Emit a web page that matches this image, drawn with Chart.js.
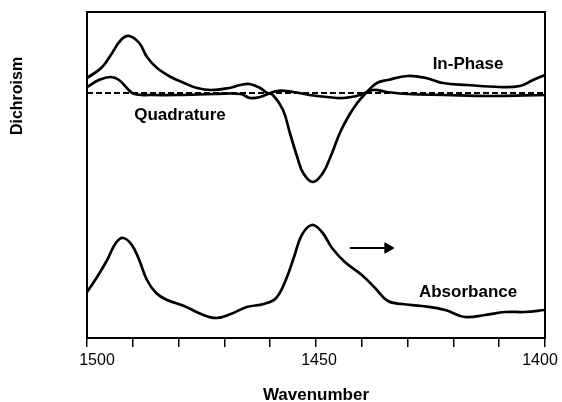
<!DOCTYPE html>
<html>
<head>
<meta charset="utf-8">
<script src="https://cdn.jsdelivr.net/npm/chart.js@4/dist/chart.umd.min.js"></script>
<style>
html,body{margin:0;padding:0;background:#fff;}
#wrap{width:562px;height:402px;}
</style>
</head>
<body>
<div id="wrap"><canvas id="c" width="562" height="402"></canvas></div>
<script>
// Wavenumbers (cm-1) and signal values (arbitrary units)
const inPhaseX = [1500,1496.9,1494.8,1492.6,1490.8,1488.6,1486.9,1484.7,1481.7,1478.8,1476,1472.9,1469,1466.5,1464.5,1462.2,1460.7,1459.4,1457.2,1455.7,1454.1,1452.8,1450.7,1448.5,1446.5,1444.8,1443,1441,1438.9,1436.7,1434.3,1430,1426,1422.3,1417,1410,1405.5,1402.6,1400];
const inPhaseY = [260,270,283,298,302,295,281,270,261,255,250,248,250,253,254,250,245,243,228,205,181,165,156,165,185,205,221,235,246,255,258,262,260,255,253,251,252,258,263];

const quadX = [1500,1497.4,1494.8,1493,1491.3,1489.7,1486,1480,1472,1466.5,1464.4,1462.2,1458.5,1455,1451.5,1447.6,1444,1440.4,1437.5,1434.5,1430,1422,1412,1400];
const quadY = [251,258,261,258,250,244,243,243,244,244,240,241,247,246,243,241,240,243,248,246,244,243,242,243];

const absX = [1500,1497.8,1495.6,1493.7,1492.1,1490.2,1488.6,1486.9,1484.9,1482.5,1478.8,1475.1,1471.8,1468.6,1465.1,1461.4,1458.7,1456.6,1454.8,1453.1,1450.9,1448.7,1446.5,1443.7,1440,1437.1,1434.3,1431.2,1426.9,1421.8,1417.5,1413.1,1408.7,1404.4,1400];
const absY = [46,61,78,95,100,93,78,58,45,38,32,24,20,24,31,34,40,58,81,103,113,106,90,76,63,50,37,34,32,28,21,23,26,26,28];

const baselineX = [1500,1400];
const baselineY = [245,245];

const arrowX = [1442.6,1434.3];
const arrowY = [90,90];

const xTickLabels = [1500,1450,1400];
const xTickLabelNudge = [10,3,-5];
const seriesLabels = ['In-Phase','Quadrature','Absorbance'];
const labelX = [1416.8,1479.7,1416.8];
const labelY = [274,223,46];
const yTitle = 'Dichroism';
const yTitleValue = 242;
const xTitle = 'Wavenumber';

const pts = (xs, ys) => xs.map((x,i)=>({x:x,y:ys[i]}));

const lineStyle = {borderColor:'#000', borderWidth:2.7, pointRadius:0, tension:0.4, fill:false};
const FONT = '"Liberation Sans", Arial, sans-serif';

const annot = {
  id:'annot',
  afterDraw(chart){
    const {ctx, chartArea:a, scales:{x,y}} = chart;
    ctx.save();
    // frame
    ctx.strokeStyle='#000'; ctx.lineWidth=2;
    ctx.strokeRect(a.left, a.top, a.right-a.left, a.bottom-a.top);
    ctx.fillStyle='#000';
    ctx.textAlign='center'; ctx.textBaseline='middle';
    // x tick labels
    ctx.font='16px ' + FONT;
    xTickLabels.forEach((v,i)=>{
      ctx.fillText(String(v), x.getPixelForValue(v) + xTickLabelNudge[i], a.bottom + 23);
    });
    // series labels
    ctx.font='bold 17px ' + FONT;
    seriesLabels.forEach((t,i)=>{
      ctx.fillText(t, x.getPixelForValue(labelX[i]), y.getPixelForValue(labelY[i]));
    });
    // y title
    ctx.translate(18, y.getPixelForValue(yTitleValue));
    ctx.rotate(-Math.PI/2);
    ctx.font='bold 16px ' + FONT;
    ctx.fillText(yTitle, 0, 0);
    ctx.restore();
  }
};

new Chart(document.getElementById('c'), {
  type:'line',
  data:{
    datasets:[
      Object.assign({label:'In-Phase', data:pts(inPhaseX,inPhaseY)}, lineStyle),
      Object.assign({label:'Quadrature', data:pts(quadX,quadY)}, lineStyle),
      Object.assign({label:'Absorbance', data:pts(absX,absY)}, lineStyle),
      {label:'Baseline', data:pts(baselineX,baselineY), borderColor:'#000', borderWidth:2, borderDash:[6,3], pointRadius:0, fill:false},
      {label:'Arrow', data:pts(arrowX,arrowY), borderColor:'#000', borderWidth:2, pointRadius:[0,6], pointStyle:'triangle', rotation:90, pointBackgroundColor:'#000', pointBorderColor:'#000', pointBorderWidth:1, fill:false}
    ]
  },
  options:{
    responsive:false,
    animation:false,
    layout:{padding:{left:87, right:17, top:12, bottom:0}},
    plugins:{legend:{display:false}, tooltip:{enabled:false}},
    scales:{
      x:{
        type:'linear', min:1400, max:1500, reverse:true,
        afterFit(s){ s.height = 64; s.paddingLeft = 0; s.paddingRight = 0; },
        border:{display:true, color:'#000', width:2},
        grid:{drawOnChartArea:false, drawTicks:true, tickLength:9, color:'#000', lineWidth:1.5},
        ticks:{stepSize:10, autoSkip:false, maxRotation:0, color:'#000', padding:3,
          font:{family:FONT, size:16},
          callback:()=> ''},
        title:{display:true, text:xTitle, color:'#000', padding:{top:0,bottom:0},
          font:{family:FONT, size:17, weight:'bold', lineHeight:0.8}}
      },
      y:{
        type:'linear', min:0, max:326, display:false
      }
    }
  },
  plugins:[annot]
});
</script>
</body>
</html>
